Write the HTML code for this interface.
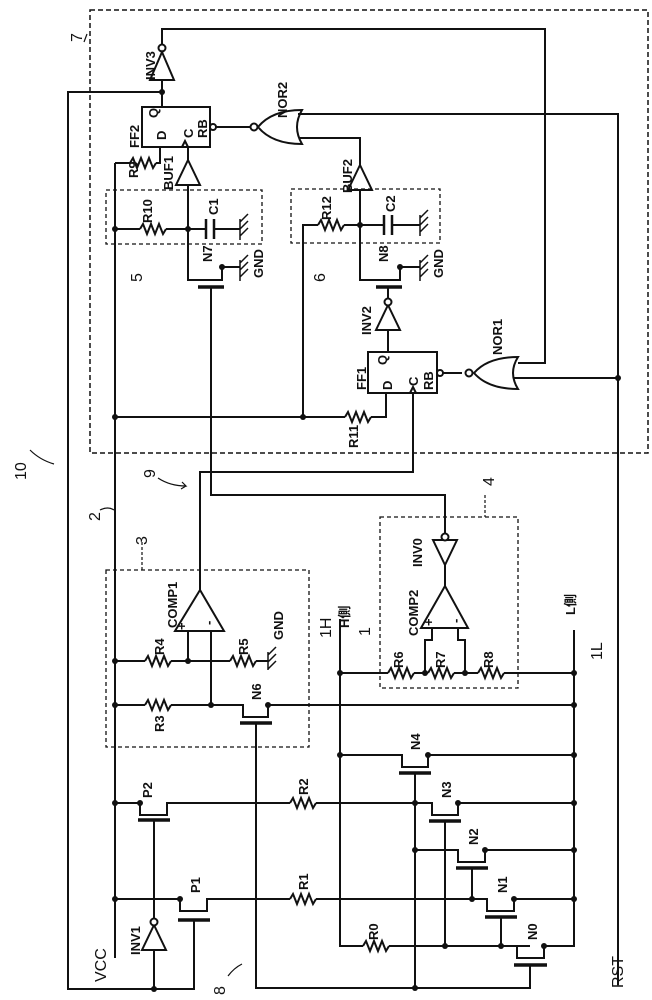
<!DOCTYPE html>
<html><head><meta charset="utf-8"><style>
html,body{margin:0;padding:0;background:#fff;}
svg{display:block;}
text{font-family:"Liberation Sans","Noto Sans CJK JP",sans-serif;font-size:13px;fill:#111;font-weight:bold;}
.b{font-size:16px;font-weight:normal;}
</style></head><body>
<svg width="652" height="1000" viewBox="0 0 652 1000" xmlns="http://www.w3.org/2000/svg">
<g fill="none" stroke="#111" stroke-width="2">
<rect x="90" y="10" width="558" height="443" stroke-dasharray="5,3" stroke-width="1.5"/>
<rect x="106" y="190" width="156" height="54" stroke-dasharray="4,3" stroke-width="1.3"/>
<rect x="291" y="189" width="149" height="54" stroke-dasharray="4,3" stroke-width="1.3"/>
<rect x="106" y="570" width="203" height="177" stroke-dasharray="4,3" stroke-width="1.3"/>
<rect x="380" y="517" width="138" height="171" stroke-dasharray="4,3" stroke-width="1.3"/>

<path d="M162,92 H68 V989 H194 V920"/>
<path d="M154,989 V950"/>
<path d="M115,163 V958"/>
<path d="M162,107 V80 M162,45 V29 H545 V363 H518"/>
<path d="M150,80 L174,80 L162,52 Z"/>
<circle cx="162" cy="48" r="3.5"/>
<rect x="142" y="107" width="68" height="40"/>
<path d="M182,147 l3,-6 l3,6"/>
<path d="M160,147 V163 H156 M130,163 H115"/>
<path d="M130,163 l3,-5 l4,10 l4,-10 l4,10 l4,-10 l4,10 l3,-5"/>
<circle cx="213" cy="127" r="3"/>
<path d="M216,127 H250"/>
<path d="M302,110 Q292,127 302,144 Q272,144 258,127 Q272,110 302,110 Z"/>
<circle cx="254" cy="127" r="3.5"/>
<path d="M298,114 H618 V985 M299,138 H360 V165"/>
<path d="M188,147 V160 M176,185 L200,185 L188,160 Z M188,185 V267"/>
<path d="M115,229 H140 M166,229 H188"/>
<path d="M140,229 l3,-5 l4,10 l4,-10 l4,10 l4,-10 l4,10 l3,-5"/>
<path d="M188,229 H206 M214,229 H240"/>
<path d="M206,219 V239 M214,219 V239" stroke-width="2.5"/>
<path d="M240,219 V240 M240,222 l8,-8 M240,229 l8,-8 M240,236 l8,-8" stroke-width="1.5"/>
<path d="M188,267 V280 H222 V267 H240"/>
<path d="M198,287 H224" stroke-width="3.5"/>
<path d="M211,287 V495 H445 V533"/>
<path d="M240,260 V281 M240,263 l8,-8 M240,270 l8,-8 M240,277 l8,-8" stroke-width="1.5"/>
<path d="M348,190 L372,190 L360,165 Z M360,190 V267"/>
<path d="M303,417 V225 H318 M344,225 H360"/>
<path d="M318,225 l3,-5 l4,10 l4,-10 l4,10 l4,-10 l4,10 l3,-5"/>
<path d="M360,225 H384 M392,225 H420"/>
<path d="M384,215 V235 M392,215 V235" stroke-width="2.5"/>
<path d="M420,215 V236 M420,218 l8,-8 M420,225 l8,-8 M420,232 l8,-8" stroke-width="1.5"/>
<path d="M360,267 V280 H400 V267 H420"/>
<path d="M376,287 H402" stroke-width="3.5"/>
<path d="M420,260 V281 M420,263 l8,-8 M420,270 l8,-8 M420,277 l8,-8" stroke-width="1.5"/>
<path d="M388,287 V302 M376,330 L400,330 L388,305 Z M388,330 V352"/>
<circle cx="388" cy="302" r="3.5" fill="#fff"/>
<rect x="368" y="352" width="69" height="41"/>
<path d="M410,393 l3,-6 l3,6"/>
<circle cx="440" cy="373" r="3"/>
<path d="M443,373 H462"/>
<path d="M386,393 V417 H371 M345,417 H115"/>
<path d="M345,417 l3,-5 l4,10 l4,-10 l4,10 l4,-10 l4,10 l3,-5"/>
<path d="M413,393 V472 H200 V590"/>
<path d="M518,357 Q508,373 518,389 Q488,389 474,373 Q488,357 518,357 Z"/>
<circle cx="469" cy="373" r="3.5"/>
<path d="M514,378 H618"/>
<path d="M200,590 L175,631 L224,631 Z"/>
<path d="M188,631 V661 M211,631 V705"/>
<path d="M115,661 H145 M171,661 H230 M256,661 H268"/>
<path d="M145,661 l3,-5 l4,10 l4,-10 l4,10 l4,-10 l4,10 l3,-5"/>
<path d="M230,661 l3,-5 l4,10 l4,-10 l4,10 l4,-10 l4,10 l3,-5"/>
<path d="M268,652 V670 M268,655 l8,-8 M268,662 l8,-8 M268,669 l8,-8" stroke-width="1.5"/>
<path d="M115,705 H145 M171,705 H243 V717 H268 V705 H574"/>
<path d="M145,705 l3,-5 l4,10 l4,-10 l4,10 l4,-10 l4,10 l3,-5"/>
<path d="M240,723 H272" stroke-width="3.5"/>
<path d="M256,723 V988 H530 V965"/>
<path d="M433,540 L457,540 L445,565 Z M445,565 V586"/>
<circle cx="445" cy="537" r="3.5" fill="#fff"/>
<path d="M445,586 L421,628 L468,628 Z"/>
<path d="M432,628 V640 H425 V673 M458,628 V640 H465 V673"/>
<path d="M340,619 V946 H363 M389,946 H530"/>
<path d="M363,946 l3,-5 l4,10 l4,-10 l4,10 l4,-10 l4,10 l3,-5"/>
<path d="M340,673 H388 M414,673 H428 M454,673 H478 M504,673 H574"/>
<path d="M388,673 l3,-5 l4,10 l4,-10 l4,10 l4,-10 l4,10 l3,-5"/>
<path d="M428,673 l3,-5 l4,10 l4,-10 l4,10 l4,-10 l4,10 l3,-5"/>
<path d="M478,673 l3,-5 l4,10 l4,-10 l4,10 l4,-10 l4,10 l3,-5"/>
<path d="M574,630 V939"/>
<path d="M340,755 H402 V767 H428 V755 H574"/>
<path d="M399,773 H431" stroke-width="3.5"/>
<path d="M415,773 V988"/>
<path d="M115,803 H140 V815 H167 V803 H290 M316,803 H432 V815 H458 V803 H574"/>
<path d="M290,803 l3,-5 l4,10 l4,-10 l4,10 l4,-10 l4,10 l3,-5"/>
<path d="M138,820 H170" stroke-width="3.5"/>
<path d="M154,820 V925"/>
<path d="M142,950 L166,950 L154,925 Z"/>
<circle cx="154" cy="922" r="3.5" fill="#fff"/>
<path d="M429,821 H461" stroke-width="3.5"/>
<path d="M445,821 V946"/>
<path d="M415,850 H458 V862 H485 V850 H574"/>
<path d="M456,868 H488" stroke-width="3.5"/>
<path d="M472,868 V899"/>
<path d="M115,899 H180 V911 H207 V899 H290 M316,899 H487 V911 H514 V899 H574"/>
<path d="M290,899 l3,-5 l4,10 l4,-10 l4,10 l4,-10 l4,10 l3,-5"/>
<path d="M178,920 H210" stroke-width="3.5"/>
<path d="M485,917 H517" stroke-width="3.5"/>
<path d="M501,917 V946"/>
<path d="M517,946 V958 H544 V946 H574 V939"/>
<path d="M514,965 H547" stroke-width="3.5"/>
<path d="M30,450 q10,10 24,14" stroke-width="1.2"/>
<path d="M100,510 q8,-4 14,0" stroke-width="1.2"/>
<path d="M142,542 V570" stroke-dasharray="3,2" stroke-width="1.2"/>
<path d="M485,495 V517" stroke-dasharray="3,2" stroke-width="1.2"/>
<path d="M158,478 q12,8 28,8 l-4,-4 M186,486 l-5,3" stroke-width="1.2"/>
<path d="M228,976 q6,-8 14,-12" stroke-width="1.2"/>
<path d="M84,42 l3,-8" stroke-width="1.2"/>
</g>
<g fill="#111">
<circle cx="162" cy="92" r="3"/><circle cx="115" cy="229" r="3"/><circle cx="188" cy="229" r="3"/>
<circle cx="360" cy="225" r="3"/><circle cx="222" cy="267" r="3"/><circle cx="400" cy="267" r="3"/>
<circle cx="115" cy="417" r="3"/><circle cx="303" cy="417" r="3"/><circle cx="618" cy="378" r="3"/>
<circle cx="115" cy="661" r="3"/><circle cx="188" cy="661" r="3"/><circle cx="115" cy="705" r="3"/>
<circle cx="211" cy="705" r="3"/><circle cx="268" cy="705" r="3"/><circle cx="340" cy="673" r="3"/>
<circle cx="425" cy="673" r="3"/><circle cx="465" cy="673" r="3"/><circle cx="574" cy="673" r="3"/>
<circle cx="574" cy="705" r="3"/><circle cx="340" cy="755" r="3"/><circle cx="428" cy="755" r="3"/>
<circle cx="574" cy="755" r="3"/><circle cx="115" cy="803" r="3"/><circle cx="140" cy="803" r="3"/>
<circle cx="415" cy="803" r="3"/><circle cx="458" cy="803" r="3"/><circle cx="574" cy="803" r="3"/>
<circle cx="415" cy="850" r="3"/><circle cx="485" cy="850" r="3"/><circle cx="574" cy="850" r="3"/>
<circle cx="115" cy="899" r="3"/><circle cx="180" cy="899" r="3"/><circle cx="472" cy="899" r="3"/>
<circle cx="514" cy="899" r="3"/><circle cx="574" cy="899" r="3"/><circle cx="445" cy="946" r="3"/>
<circle cx="501" cy="946" r="3"/><circle cx="544" cy="946" r="3"/><circle cx="415" cy="988" r="3"/>
<circle cx="154" cy="989" r="3"/>
</g>
<g>
<text transform="translate(155,80) rotate(-90)">INV3</text>
<text transform="translate(287,118) rotate(-90)">NOR2</text>
<text transform="translate(139,148) rotate(-90)">FF2</text>
<text transform="translate(166,140) rotate(-90)">D</text>
<text transform="translate(158,118) rotate(-90)">Q</text>
<text transform="translate(193,138) rotate(-90)">C</text>
<text transform="translate(207,138) rotate(-90)">RB</text>
<text transform="translate(138,178) rotate(-90)">R9</text>
<text transform="translate(173,190) rotate(-90)">BUF1</text>
<text transform="translate(152,223) rotate(-90)">R10</text>
<text transform="translate(218,215) rotate(-90)">C1</text>
<text transform="translate(212,262) rotate(-90)">N7</text>
<text transform="translate(263,278) rotate(-90)">GND</text>
<text class="b" transform="translate(142,282) rotate(-90)">5</text>
<text transform="translate(352,193) rotate(-90)">BUF2</text>
<text transform="translate(331,220) rotate(-90)">R12</text>
<text transform="translate(395,212) rotate(-90)">C2</text>
<text transform="translate(388,262) rotate(-90)">N8</text>
<text transform="translate(443,278) rotate(-90)">GND</text>
<text class="b" transform="translate(325,282) rotate(-90)">6</text>
<text transform="translate(371,335) rotate(-90)">INV2</text>
<text transform="translate(502,355) rotate(-90)">NOR1</text>
<text transform="translate(366,390) rotate(-90)">FF1</text>
<text transform="translate(392,390) rotate(-90)">D</text>
<text transform="translate(387,365) rotate(-90)">Q</text>
<text transform="translate(418,386) rotate(-90)">C</text>
<text transform="translate(433,390) rotate(-90)">RB</text>
<text transform="translate(358,448) rotate(-90)">R11</text>
<text class="b" transform="translate(82,42) rotate(-90)">7</text>
<text class="b" transform="translate(26,480) rotate(-90)">10</text>
<text class="b" transform="translate(100,521) rotate(-90)">2</text>
<text class="b" transform="translate(155,478) rotate(-90)">9</text>
<text class="b" transform="translate(147,545) rotate(-90)">3</text>
<text class="b" transform="translate(494,486) rotate(-90)">4</text>
<text transform="translate(177,628) rotate(-90)">COMP1</text>
<text transform="translate(186,630) rotate(-90)">+</text>
<text transform="translate(213,625) rotate(-90)">-</text>
<text transform="translate(164,655) rotate(-90)">R4</text>
<text transform="translate(248,655) rotate(-90)">R5</text>
<text transform="translate(283,640) rotate(-90)">GND</text>
<text transform="translate(164,732) rotate(-90)">R3</text>
<text transform="translate(261,700) rotate(-90)">N6</text>
<text transform="translate(422,567) rotate(-90)">INV0</text>
<text transform="translate(418,636) rotate(-90)">COMP2</text>
<text transform="translate(433,626) rotate(-90)">+</text>
<text transform="translate(460,623) rotate(-90)">-</text>
<text transform="translate(403,668) rotate(-90)">R6</text>
<text transform="translate(445,668) rotate(-90)">R7</text>
<text transform="translate(493,668) rotate(-90)">R8</text>
<text class="b" transform="translate(331,638) rotate(-90)">1H</text>
<text transform="translate(349,628) rotate(-90)">H側</text>
<text class="b" transform="translate(370,636) rotate(-90)">1</text>
<text transform="translate(575,615) rotate(-90)">L側</text>
<text class="b" transform="translate(602,660) rotate(-90)">1L</text>
<text transform="translate(420,750) rotate(-90)">N4</text>
<text transform="translate(152,798) rotate(-90)">P2</text>
<text transform="translate(308,795) rotate(-90)">R2</text>
<text transform="translate(451,798) rotate(-90)">N3</text>
<text transform="translate(478,845) rotate(-90)">N2</text>
<text transform="translate(200,893) rotate(-90)">P1</text>
<text transform="translate(308,890) rotate(-90)">R1</text>
<text transform="translate(507,893) rotate(-90)">N1</text>
<text transform="translate(378,940) rotate(-90)">R0</text>
<text transform="translate(537,940) rotate(-90)">N0</text>
<text transform="translate(140,955) rotate(-90)">INV1</text>
<text class="b" transform="translate(106,982) rotate(-90)">VCC</text>
<text class="b" transform="translate(623,988) rotate(-90)">RST</text>
<text class="b" transform="translate(225,995) rotate(-90)">8</text>
</g>
</svg>
</body></html>
